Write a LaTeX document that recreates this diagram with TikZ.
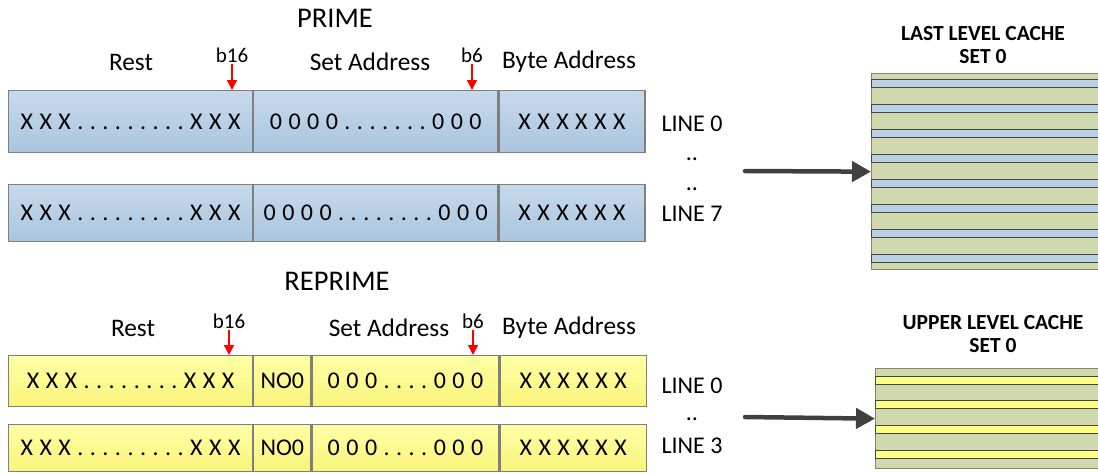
\documentclass[tikz,border=0pt]{standalone}
\usepackage{fontspec}
\setmainfont{Carlito}
\newfontfamily\spacedfont[LetterSpace=27]{Carlito}
\usetikzlibrary{arrows.meta}

\definecolor{fieldblue1}{HTML}{C7DAEB}
\definecolor{fieldblue2}{HTML}{A9C5DE}
\definecolor{fieldyel1}{HTML}{FFFFA6}
\definecolor{fieldyel2}{HTML}{F8F47A}
\definecolor{fieldedge}{HTML}{7F7F7F}
\definecolor{cachegreen}{HTML}{CFD9AD}
\definecolor{cacheedge}{HTML}{85876A}
\definecolor{stripeblue}{HTML}{B8CFE4}
\definecolor{stripeyel}{HTML}{FFFF88}
\definecolor{stripeedge}{HTML}{454545}
\definecolor{darkarrow}{HTML}{404040}

\tikzset{
  primefield/.style={draw=fieldedge, line width=1.2pt, top color=fieldblue1,
    bottom color=fieldblue2, inner sep=0pt, anchor=north west,
    font=\fontsize{24}{28}\spacedfont},
  reprimefield/.style={primefield, top color=fieldyel1, bottom color=fieldyel2},
  title/.style={font=\fontsize{28.5}{32}\selectfont, inner sep=1pt},
  header/.style={font=\fontsize{25.3}{29}\selectfont, inner sep=1pt},
  bitlabel/.style={font=\fontsize{21}{24}\selectfont, inner sep=1pt},
  linelabel/.style={font=\fontsize{24}{28}\selectfont, inner sep=0pt},
  bitarrow/.style={red, line width=1.4pt, -{Triangle[length=10pt, width=10pt]}},
  busarrow/.style={darkarrow, line width=4.5pt, line cap=round,
    -{Triangle[length=19pt, width=20pt]}},
  cachebox/.style={draw=cacheedge, line width=1.3pt, fill=cachegreen,
    inner sep=0pt, anchor=north west},
  stripe/.style={draw=stripeedge, line width=0.9pt},
  cachetitle/.style={font=\bfseries\fontsize{21.5}{23.5}\selectfont, align=center}
}

\begin{document}
\begin{tikzpicture}[x=1pt, y=-1pt]
    \useasboundingbox (0,0) rectangle (1098,472);

    % PRIME titles
    \node[title] (prime) at (335,18) {PRIME};
    \node[header] (prest) at (131,62) {Rest};
    \node[header] (pset) at (370,62) {Set Address};
    \node[header] (pbyte) at (569,62) {Byte Address};
    \node[bitlabel] (pb16) at (232,55) {b16};
    \node[bitlabel] (pb6) at (472,55) {b6};

    % PRIME address lines
    \node[primefield, minimum width=244, minimum height=62] (p1rest) at (8,90) {XXX.........XXX};
    \node[primefield, minimum width=244, minimum height=62] (p1set) at (p1rest.north east) {0000.......000};
    \node[primefield, minimum width=146, minimum height=62] (p1byte) at (p1set.north east) {XXXXXX};
    \node[primefield, minimum width=244, minimum height=57] (p2rest) at (8,184) {XXX.........XXX};
    \node[primefield, minimum width=244, minimum height=57] (p2set) at (p2rest.north east) {0000........000};
    \node[primefield, minimum width=146, minimum height=57] (p2byte) at (p2set.north east) {XXXXXX};

    \draw[bitarrow] (pb16.south) -- (pb16.south |- p1rest.north);
    \draw[bitarrow] (pb6.south) -- (pb6.south |- p1set.north);

    \node[linelabel] (pline0) at (692,124) {LINE 0};
    \node[linelabel] (pdots1) at (692,159) {..};
    \node[linelabel] (pdots2) at (692,189) {..};
    \node[linelabel] (pline7) at (692,214) {LINE 7};

    % Last level cache set
    \node[cachetitle] (llctitle) at (983,45) {LAST LEVEL CACHE\\SET 0};
    \node[cachebox, minimum width=232, minimum height=196] (llc) at (871,73) {};
    \foreach \k in {0,...,7}
        \draw[stripe, fill=stripeblue] (871,{79+25.1*\k}) rectangle (1102,{87+25.1*\k});
    \coordinate (pstart) at (745,171);
    \draw[busarrow] (pstart) -- (llc.west);

    % REPRIME titles
    \node[title] (reprime) at (337,281) {REPRIME};
    \node[header] (rrest) at (133,328) {Rest};
    \node[header] (rset) at (389,328) {Set Address};
    \node[header] (rbyte) at (569,328) {Byte Address};
    \node[bitlabel] (rb16) at (229,321) {b16};
    \node[bitlabel] (rb6) at (473,321) {b6};

    % REPRIME address lines
    \node[reprimefield, minimum width=244, minimum height=51] (r1rest) at (8,355) {XXX........XXX};
    \node[reprimefield, minimum width=57, minimum height=51, font=\fontsize{24}{28}\selectfont] (r1no) at (r1rest.north east) {NO0};
    \node[reprimefield, minimum width=187, minimum height=51] (r1set) at (r1no.north east) {000....000};
    \node[reprimefield, minimum width=146, minimum height=51] (r1byte) at (r1set.north east) {XXXXXX};
    \node[reprimefield, minimum width=244, minimum height=47] (r2rest) at (8,424) {XXX.........XXX};
    \node[reprimefield, minimum width=57, minimum height=47, font=\fontsize{24}{28}\selectfont] (r2no) at (r2rest.north east) {NO0};
    \node[reprimefield, minimum width=187, minimum height=47] (r2set) at (r2no.north east) {000....000};
    \node[reprimefield, minimum width=146, minimum height=47] (r2byte) at (r2set.north east) {XXXXXX};

    \draw[bitarrow] (rb16.south) -- (rb16.south |- r1rest.north);
    \draw[bitarrow] (rb6.south) -- (rb6.south |- r1set.north);

    \node[linelabel] (rline0) at (692,386) {LINE 0};
    \node[linelabel] (rdots) at (692,419) {..};
    \node[linelabel] (rline3) at (692,446) {LINE 3};

    % Upper level cache set
    \node[cachetitle] (ulctitle) at (993,334) {UPPER LEVEL CACHE\\SET 0};
    \node[cachebox, minimum width=228, minimum height=100] (ulc) at (875,368) {};
    \foreach \k in {0,...,3}
        \draw[stripe, fill=stripeyel] (875,{376+24.7*\k}) rectangle (1102,{384+24.7*\k});
    \coordinate (rstart) at (745,417);
    \draw[busarrow] (rstart) -- (ulc.west);
\end{tikzpicture}
\end{document}
